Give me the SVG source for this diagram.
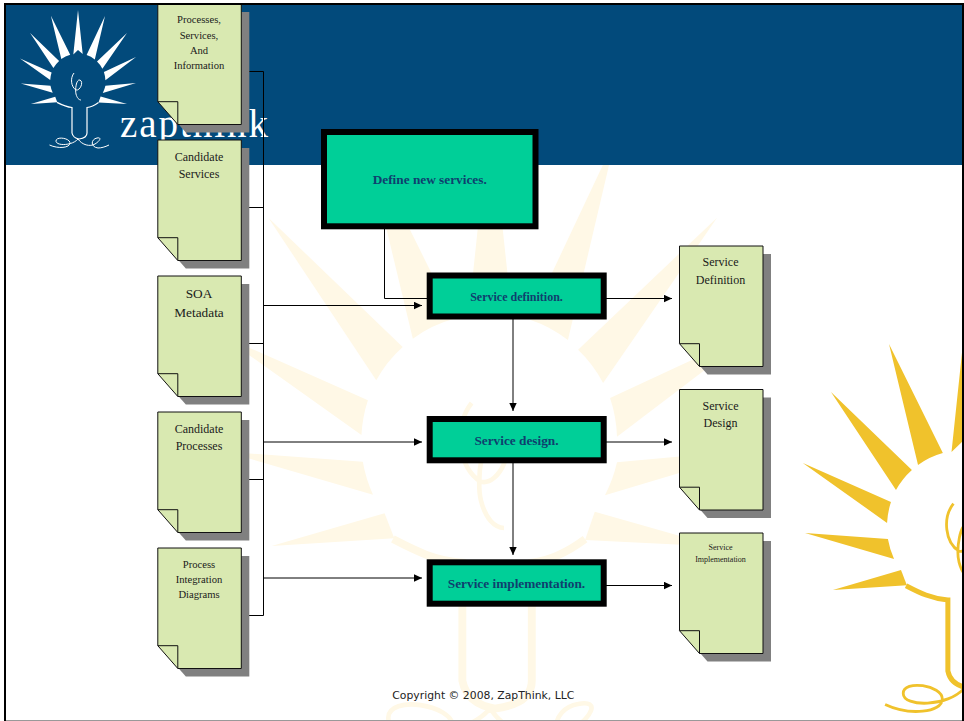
<svg xmlns="http://www.w3.org/2000/svg" xmlns:xlink="http://www.w3.org/1999/xlink" width="964" height="721" viewBox="0 0 964 721">
<style>
.doc-body{fill:#d9e9b1;stroke:#111;stroke-width:1}
.doc-fold{fill:none;stroke:#111;stroke-width:1}
.doc-shadow{fill:#808080}
.doc-text{font-family:"Liberation Serif","Times New Roman",serif;fill:#1a1a1a;text-anchor:middle}
.box{fill:#00cf98;stroke:#000;stroke-width:6}
.box-text{font-family:"Liberation Serif","Times New Roman",serif;font-weight:700;fill:#0f3f6e;text-anchor:middle}
.conn{fill:none;stroke:#000;stroke-width:1}
.arrow{fill:none;stroke:#000;stroke-width:1;marker-end:url(#ah)}
</style>
<defs>
<marker id="ah" markerUnits="userSpaceOnUse" markerWidth="9" markerHeight="9" refX="8" refY="4" orient="auto"><path d="M0,0.3 L8,4 L0,7.7 Z" fill="#000"/></marker>
<g id="logo">
<g stroke="none">
<path d="M78,10 L73.3,54.5 L78,50 L82.7,54 Z"/>
<path d="M50.9,15.8 L61.3,59.1 A27,27 0 0 1 70.2,54.8 Z"/>
<path d="M30.1,33 L53.4,68.1 A27,27 0 0 1 59.1,60.9 Z"/>
<path d="M20,58.4 L50.2,79.9 A29,29 0 0 1 51.6,72.4 Z"/>
<path d="M20.8,83.5 L52.7,92.8 A29,29 0 0 1 50.5,85.7 Z"/>
<path d="M30.8,103.9 L57.3,102.2 L55.2,96.8 Z"/>
<path d="M105,16 L86.6,55 A27,27 0 0 1 94.8,59.4 Z"/>
<path d="M127,33 L97,61.5 A27,27 0 0 1 102.4,68.7 Z"/>
<path d="M136,57 L103.9,71.9 A29,29 0 0 1 105.4,80.3 Z"/>
<path d="M136,83 L105.4,85.8 A29,29 0 0 1 102.8,92.9 Z"/>
<path d="M127,104 L100.6,96.5 L98.5,102.6 Z"/>
</g>
<path fill="none" d="M57,102.4 C62,105 66,107 72,107.5 L72,133 Q73,138 79,139 Q87,138 87,133 L87,107.5 C91,107 95,105 98.5,102.4"/>
<path fill="none" stroke-width="1" d="M49.5,145 C58,149 70,148 70,143 C70,138 56,136 56,141 C56,146 72,146 78,139 C82,145 90,147 95,144 C100,141 102,137 97,138 C91,139 90,147 98,148 C101,148 105,147 109,145"/>
<path fill="none" stroke-width="1" d="M74,73 C70,78 71,87 76,90 C80,91 84,82 80,80 C76,79 75,90 76,94 C77,98 79,100 81,100"/>
</g>
<g id="doc">
<path class="doc-shadow" d="M8,8 H91.5 V128.5 H28 L8,105.7 Z"/>
<path class="doc-body" d="M0,0 H83.5 V120.5 H20 L0,97.7 Z"/>
<path class="doc-fold" d="M0,97.7 H20 V120.5"/>
</g>
</defs>

<rect width="964" height="721" fill="#fff"/>
<g id="background">
<use xlink:href="#logo" href="#logo" transform="translate(129,65) scale(4.63)" fill="#fff8e6" stroke="#fff8e6" stroke-width="1.7"/>
<use xlink:href="#logo" href="#logo" transform="translate(747,300) scale(2.79)" fill="#f0c22c" stroke="#f0c22c" stroke-width="1.8"/>
<rect x="5" y="4" width="957" height="161" fill="#024a7b"/>
<use xlink:href="#logo" href="#logo" fill="#fff" stroke="#fff" stroke-width="1.2"/>
<text x="120" y="136.5" font-family="Liberation Serif, Times New Roman, serif" font-size="39" fill="#fff" textLength="148" lengthAdjust="spacing">zapthink</text>
</g>

<g id="connectors">
<path class="conn" d="M249,71.5 H263.5 V615.5 H249"/>
<path class="conn" d="M249,207.5 H263.5"/>
<path class="conn" d="M249,343.5 H263.5"/>
<path class="conn" d="M249,479.5 H263.5"/>
<path class="arrow" d="M264,305.5 H422"/>
<path class="arrow" d="M264,442 H422"/>
<path class="arrow" d="M264,578 H422"/>
<path class="conn" d="M384.5,229 V298.5 H427"/>
<path class="arrow" d="M513,319 V411"/>
<path class="arrow" d="M513,463 V555"/>
<path class="arrow" d="M606,298.5 H672"/>
<path class="arrow" d="M606,442 H672"/>
<path class="arrow" d="M606,585.5 H672"/>
</g>

<g id="doc-processes"><use xlink:href="#doc" href="#doc" x="157.8" y="4"/>
<text class="doc-text" font-size="10.6"><tspan x="199" y="23">Processes,</tspan><tspan x="199" y="39">Services,</tspan><tspan x="199" y="54">And</tspan><tspan x="199" y="69">Information</tspan></text></g>
<g id="doc-candidate-services"><use xlink:href="#doc" href="#doc" x="157.8" y="140"/>
<text class="doc-text" font-size="12"><tspan x="199" y="161">Candidate</tspan><tspan x="199" y="178">Services</tspan></text></g>
<g id="doc-soa-metadata"><use xlink:href="#doc" href="#doc" x="157.8" y="276"/>
<text class="doc-text" font-size="13.3"><tspan x="199" y="298">SOA</tspan><tspan x="199" y="317">Metadata</tspan></text></g>
<g id="doc-candidate-processes"><use xlink:href="#doc" href="#doc" x="157.8" y="412"/>
<text class="doc-text" font-size="12"><tspan x="199" y="433">Candidate</tspan><tspan x="199" y="450">Processes</tspan></text></g>
<g id="doc-process-integration"><use xlink:href="#doc" href="#doc" x="157.8" y="548"/>
<text class="doc-text" font-size="10.6"><tspan x="199" y="568">Process</tspan><tspan x="199" y="583">Integration</tspan><tspan x="199" y="598">Diagrams</tspan></text></g>
<g id="doc-service-definition"><use xlink:href="#doc" href="#doc" x="679.5" y="246"/>
<text class="doc-text" font-size="12"><tspan x="720.5" y="266">Service</tspan><tspan x="720.5" y="284">Definition</tspan></text></g>
<g id="doc-service-design"><use xlink:href="#doc" href="#doc" x="679.5" y="389.5"/>
<text class="doc-text" font-size="12"><tspan x="720.5" y="410">Service</tspan><tspan x="720.5" y="427">Design</tspan></text></g>
<g id="doc-service-implementation"><use xlink:href="#doc" href="#doc" x="679.5" y="533"/>
<text class="doc-text" font-size="8"><tspan x="720.5" y="550">Service</tspan><tspan x="720.5" y="562">Implementation</tspan></text></g>

<g id="box-define"><rect class="box" x="324" y="132" width="211.5" height="94.3"/>
<text class="box-text" x="429.7" y="184" font-size="13.3">Define new services.</text></g>
<g id="box-service-definition"><rect class="box" x="429.7" y="275.5" width="174" height="41"/>
<text class="box-text" x="516.5" y="301" font-size="12">Service definition.</text></g>
<g id="box-service-design"><rect class="box" x="429.7" y="419" width="174" height="41.3"/>
<text class="box-text" x="516.5" y="445" font-size="13.3">Service design.</text></g>
<g id="box-service-implementation"><rect class="box" x="429.7" y="562.3" width="174" height="41.4"/>
<text class="box-text" x="516.5" y="588" font-size="13.3">Service implementation.</text></g>

<text id="copyright" x="392.3" y="699.3" font-family="DejaVu Sans, Verdana, sans-serif" font-size="11" fill="#222" textLength="182" lengthAdjust="spacingAndGlyphs">Copyright © 2008, ZapThink, LLC</text>

<g id="frame">
<rect x="4" y="3" width="960" height="2" fill="#000"/>
<rect x="4" y="3" width="2" height="718" fill="#000"/>
<rect x="962" y="3" width="2" height="718" fill="#000"/>
<rect x="6" y="720" width="956" height="1" fill="#999"/>
</g>
</svg>
